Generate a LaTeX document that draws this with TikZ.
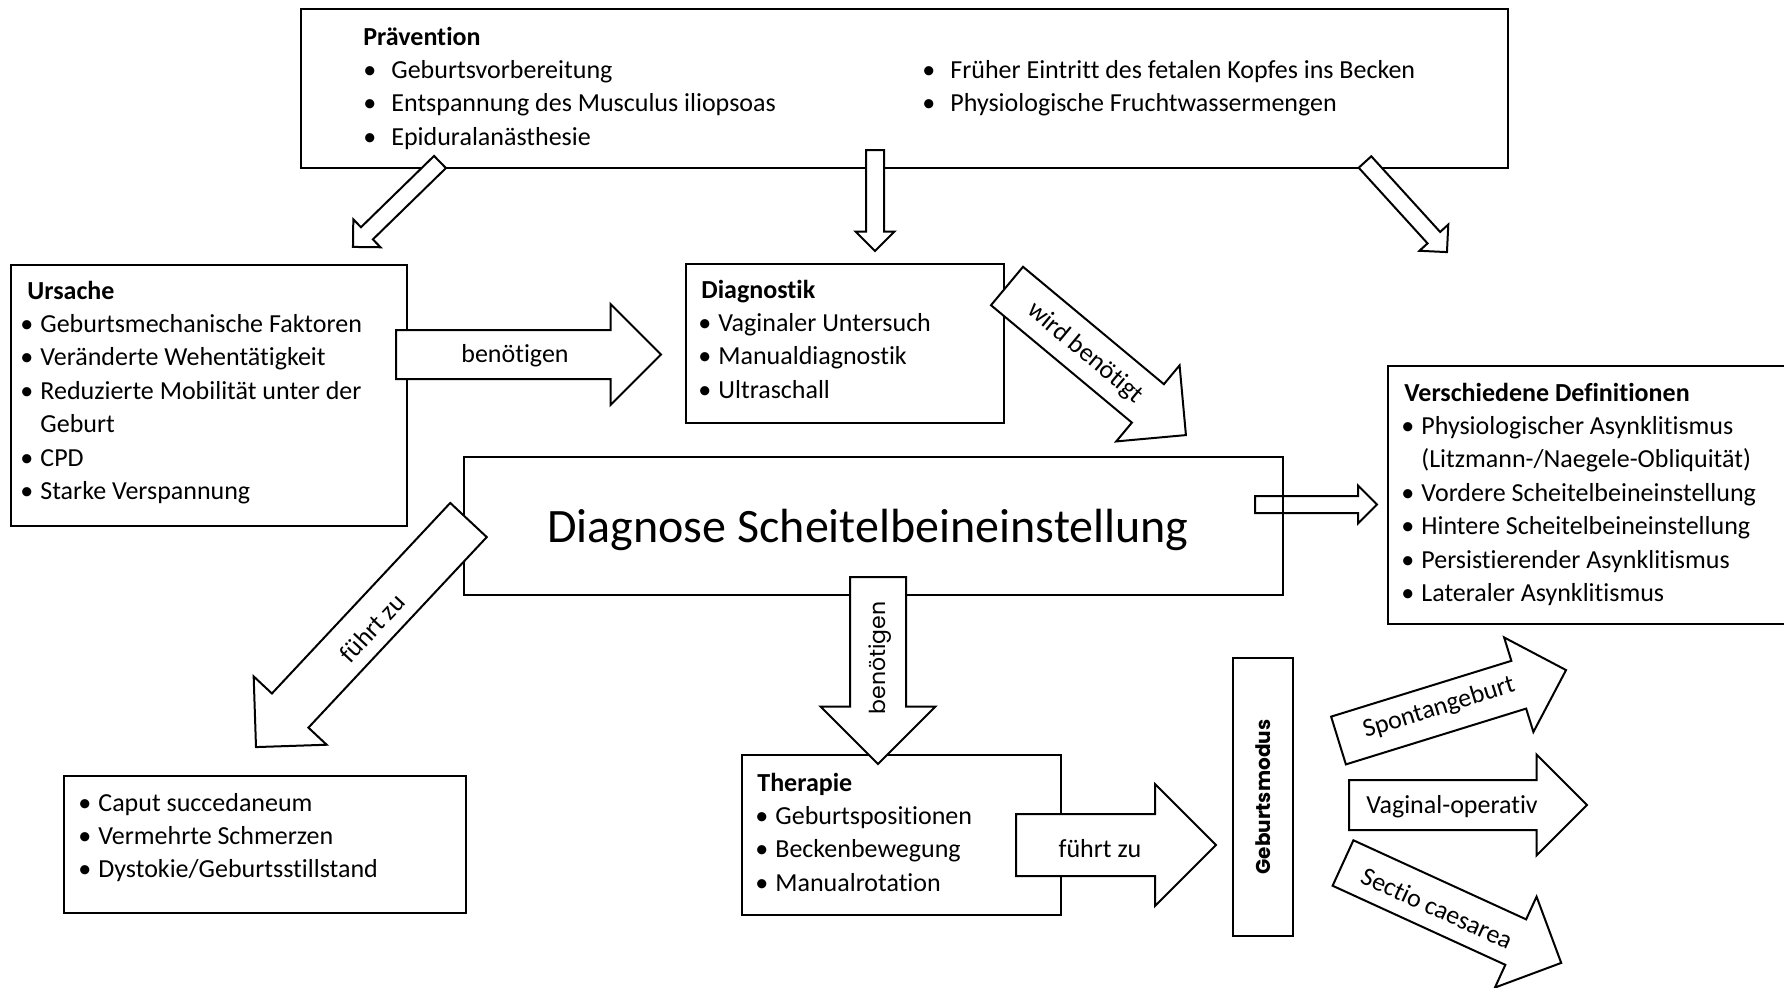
\documentclass[tikz,border=0pt]{standalone}
\usepackage{fontspec}
\setmainfont{Carlito}[Ligatures=NoCommon]
\newfontfamily\geofont{Poppins}
\usepackage{tikz}
\usetikzlibrary{positioning, fit, calc}

\newcommand{\itm}[1][10pt]{\makebox[#1][l]{\textbullet}}
% block arrow: [fill] {tail} {angle} {length} {half shaft} {half head}
\newcommand{\blockpfeil}[6][fill=white]{%
  \draw[pfeil, #1, shift={#2}, rotate=#3]
    (0,-#5) -- ({#4-#6},-#5) -- ({#4-#6},-#6) -- (#4,0)
    -- ({#4-#6},#6) -- ({#4-#6},#5) -- (0,#5) -- cycle;}

\begin{document}
\begin{tikzpicture}[x=0.5pt, y=-0.5pt,
    box/.style={rectangle, draw, line width=1pt, inner sep=0pt},
    liste/.style={inner sep=0pt, anchor=base west, font=\fontsize{13}{16.7}\selectfont},
    pfeil/.style={draw, line width=1pt, line join=miter},
    schrift/.style={inner sep=0pt, font=\fontsize{13}{16}\selectfont}]

\path[fill=white, use as bounding box] (0,0) rectangle (1784,987);

    % Kaesten
\node[box, fit={(301,9) (1508,168)}] (praevention) {};
\node[box, fit={(11,265) (407,526)}] (ursache) {};
\node[box, fit={(686,264) (1004,423)}] (diagnostik) {};
\node[box, fit={(464,457) (1283,595)}] (diagnose) {};
\node[box, fit={(1388,366) (1800,624)}] (definitionen) {};
\node[box, fit={(64,776) (466,913)}] (folgen) {};
\node[box, fit={(742,755) (1061,915)}] (therapie) {};
\node[box, fit={(1233,658) (1293,936)}] (geburtsmodus) {};

\node[liste] (praeventionL) at (363,45) {
    \begin{tabular}[t]{@{}l@{}}
    \textbf{Prävention}\\
    \itm[14pt]Geburtsvorbereitung\\
    \itm[14pt]Entspannung des Musculus iliopsoas\\
    \itm[14pt]Epiduralanästhesie
    \end{tabular}
};
\node[liste] (praeventionR) at (922,78.4) {
    \begin{tabular}[t]{@{}l@{}}
    \itm[14pt]Früher Eintritt des fetalen Kopfes ins Becken\\
    \itm[14pt]Physiologische Fruchtwassermengen
    \end{tabular}
};
\node[liste] (ursacheL) at (20,299) {
    \begin{tabular}[t]{@{}l@{}}
    \hspace*{3.5pt}\textbf{Ursache}\\
    \itm Geburtsmechanische Faktoren\\
    \itm Veränderte Wehentätigkeit\\
    \itm Reduzierte Mobilität unter der\\
    \hspace*{10pt}Geburt\\
    \itm CPD\\
    \itm Starke Verspannung
    \end{tabular}
};
\node[liste] (diagnostikL) at (698,298) {
    \begin{tabular}[t]{@{}l@{}}
    \hspace*{1.5pt}\textbf{Diagnostik}\\
    \itm Vaginaler Untersuch\\
    \itm Manualdiagnostik\\
    \itm Ultraschall
    \end{tabular}
};
\node[liste] (definitionenL) at (1401,401) {
    \begin{tabular}[t]{@{}l@{}}
    \hspace*{1.5pt}\textbf{Verschiedene Definitionen}\\
    \itm Physiologischer Asynklitismus\\
    \hspace*{10pt}(Litzmann-/Naegele-Obliquität)\\
    \itm Vordere Scheitelbeineinstellung\\
    \itm Hintere Scheitelbeineinstellung\\
    \itm Persistierender Asynklitismus\\
    \itm Lateraler Asynklitismus
    \end{tabular}
};
\node[liste] (folgenL) at (78,811) {
    \begin{tabular}[t]{@{}l@{}}
    \itm Caput succedaneum\\
    \itm Vermehrte Schmerzen\\
    \itm Dystokie/Geburtsstillstand
    \end{tabular}
};
\node[liste] (therapieL) at (755,791) {
    \begin{tabular}[t]{@{}l@{}}
    \hspace*{1pt}\textbf{Therapie}\\
    \itm Geburtspositionen\\
    \itm Beckenbewegung\\
    \itm Manualrotation
    \end{tabular}
};

\node[inner sep=0pt, anchor=base, font=\fontsize{24}{29}\selectfont] (diagnoseT) at (868,542) {Diagnose Scheitelbeineinstellung};

    % Pfeile
\blockpfeil{(440,162)}{-135.7}{121.6}{8.5}{19.5}
\blockpfeil{(875,150)}{-90}{101}{9}{19.5}
\blockpfeil{(1365,162)}{-47.7}{121.8}{8.5}{19.5}
\blockpfeil{(396,354.5)}{0}{265}{24.5}{50.5}
\blockpfeil{(1007,286)}{-39.8}{232.9}{25}{49.5}
\blockpfeil{(468.5,520)}{-133.1}{311}{25}{50}
\blockpfeil[fill=none]{(1255,504.5)}{0}{122}{8.5}{19}
\blockpfeil{(878,577)}{-90}{187}{28}{57.5}
\blockpfeil{(1016,845)}{0}{200}{31}{61}
\blockpfeil{(1338.5,740.5)}{17.2}{238.2}{25}{49.5}
\blockpfeil{(1349,805)}{0}{238}{25}{50.5}
\blockpfeil{(1343,863)}{-24.6}{240}{25}{50}

\node[schrift] (benoetigenA) at (515,356) {benötigen};
\node[schrift, rotate=-39.8] (wirdbenoetigt) at (1085,353) {wird benötigt};
\node[schrift, rotate=46.9] (fuehrtzuA) at (372,628) {führt zu};
\node[inner sep=0pt, font=\geofont\fontsize{11}{13}\selectfont, rotate=90] (benoetigenB) at (880,658) {benötigen};
\node[schrift] (fuehrtzuB) at (1100,849) {führt zu};
\node[inner sep=0pt, font=\geofont\bfseries\fontsize{10}{12}\selectfont, rotate=90] (modusT) at (geburtsmodus.center) {Geburtsmodus};
\node[schrift, rotate=17.2] (spontan) at (1439,708) {Spontangeburt};
\node[schrift] (vaginal) at (1452,807) {Vaginal-operativ};
\node[schrift, rotate=-24.6] (sectio) at (1437,908) {Sectio caesarea};

\end{tikzpicture}
\end{document}
